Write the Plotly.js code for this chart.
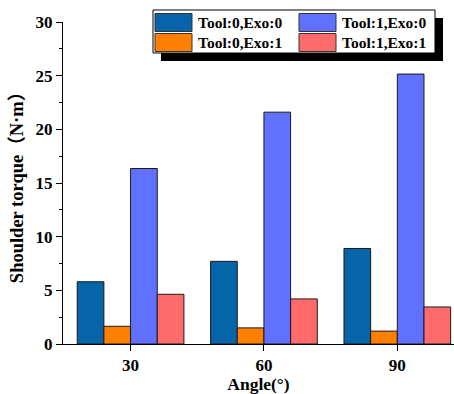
<!DOCTYPE html>
<html>
<head>
<meta charset="utf-8">
<script src="https://cdn.plot.ly/plotly-3.0.1.min.js"></script>
<style>html,body{margin:0;padding:0;background:#fff;}#chart{width:454px;height:394px;}</style>
</head>
<body>
<div id="chart"></div>
<script>
const angles = [30, 60, 90];
const tickLabels = ["30", "60", "90"];
const seriesNames = ["Tool:0,Exo:0", "Tool:0,Exo:1", "Tool:1,Exo:0", "Tool:1,Exo:1"];
const tool0exo0 = [5.8, 7.7, 8.9];
const tool0exo1 = [1.65, 1.5, 1.2];
const tool1exo0 = [16.35, 21.6, 25.15];
const tool1exo1 = [4.63, 4.2, 3.45];
const seriesColors = ["#0565A8", "#FF8000", "#6070FF", "#FF6B6B"];

const values = [tool0exo0, tool0exo1, tool1exo0, tool1exo1];
const font = "Liberation Serif, Times New Roman, serif";

const traces = values.map((v, i) => ({
  type: "bar",
  x: angles,
  y: v,
  name: seriesNames[i],
  marker: {color: seriesColors[i], line: {color: "#1a1a1a", width: 1}}
}));

// pixel -> paper conversion for plot area (l=63, r=0, t=22, b=50)
const W = 454, H = 394, L = 63, T = 22, B = 50, R = 0;
const pw = W - L - R, ph = H - T - B;
const px = x => (x - L) / pw;
const py = y => (H - B - y) / ph;

// custom legend (2 columns x 2 rows)
const legCol = [0, 0, 1, 1];
const legRow = [0, 1, 0, 1];
const box = {x0: 153, x1: 435, y0: 10, y1: 53};
const shadowOff = 8;
const shapes = [
  {type: "rect", xref: "paper", yref: "paper", layer: "above",
   x0: px(box.x0 + shadowOff), x1: px(box.x1 + shadowOff), y0: py(box.y1 + shadowOff), y1: py(box.y0 + shadowOff),
   fillcolor: "#000", line: {width: 0}},
  {type: "rect", xref: "paper", yref: "paper", layer: "above",
   x0: px(box.x0), x1: px(box.x1), y0: py(box.y1), y1: py(box.y0),
   fillcolor: "#fff", line: {color: "#000", width: 1}}
];
const annotations = [];
const colX = [155, 299];
const rowY = [22.5, 42.5];
seriesNames.forEach((n, i) => {
  const sx = colX[legCol[i]], sy = rowY[legRow[i]];
  shapes.push({type: "rect", xref: "paper", yref: "paper", layer: "above",
    x0: px(sx), x1: px(sx + 37), y0: py(sy + 9), y1: py(sy - 9),
    fillcolor: seriesColors[i], line: {color: "#333", width: 1}});
  annotations.push({xref: "paper", yref: "paper", x: px(sx + 41), y: py(sy),
    xanchor: "left", yanchor: "middle", showarrow: false,
    text: "<b>" + n + "</b>", font: {family: font, size: 15.5, color: "#000"}});
});

const cjk = "<span style=\"font-family:'Noto Sans CJK SC'\">";
const layout = {
  width: W, height: H,
  margin: {l: L, r: R, t: T, b: B},
  paper_bgcolor: "#fff", plot_bgcolor: "#fff",
  barmode: "group", bargap: 0.2, bargroupgap: 0,
  font: {family: font, color: "#000"},
  showlegend: false,
  xaxis: {
    range: [14.8, 102.75],
    tickvals: angles, ticktext: tickLabels,
    showgrid: false, zeroline: false,
    showline: true, linecolor: "#000", linewidth: 1,
    ticks: "outside", ticklen: 6, tickcolor: "#000",
    tickfont: {family: font, size: 17, color: "#000", weight: "bold"},
    title: {text: "<b>Angle(°)</b>", font: {family: font, size: 17.5, color: "#000"}, standoff: 2}
  },
  yaxis: {
    range: [0, 30], dtick: 5,
    showgrid: false, zeroline: false,
    showline: true, linecolor: "#000", linewidth: 1,
    ticks: "outside", ticklen: 6, tickcolor: "#000",
    minor: {dtick: 2.5, ticks: "outside", ticklen: 3, tickcolor: "#000"},
    tickfont: {family: font, size: 17, color: "#000", weight: "bold"},
    title: {text: "<b>Shoulder torque" + cjk + "（</span>N·m" + cjk + "）</span></b>", font: {family: font, size: 18.5, color: "#000"}, standoff: 7}
  },
  shapes: shapes,
  annotations: annotations
};

Plotly.newPlot("chart", traces, layout, {displayModeBar: false, staticPlot: true});
</script>
</body>
</html>
